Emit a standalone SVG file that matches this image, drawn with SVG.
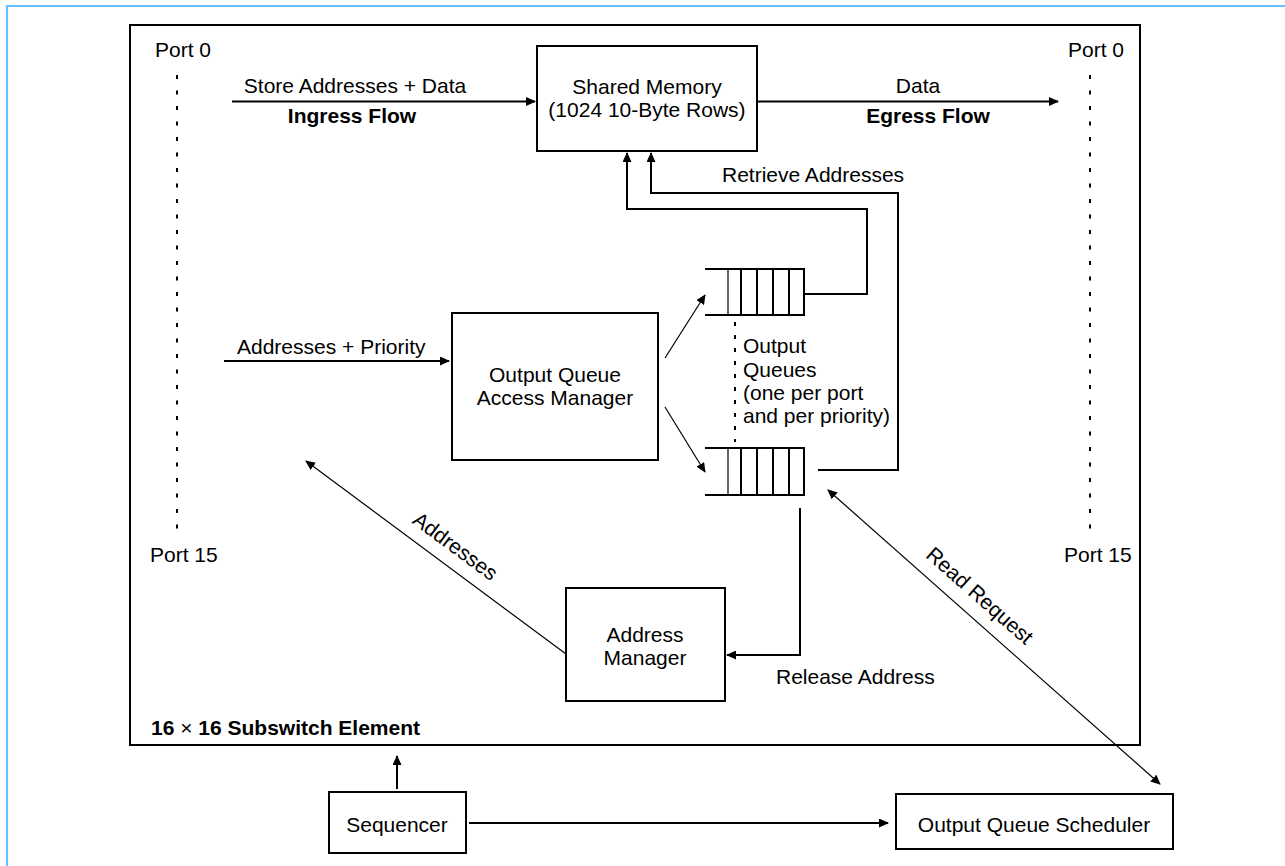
<svg xmlns="http://www.w3.org/2000/svg" width="1285" height="866" viewBox="0 0 1285 866">
  <style>
    text { font-family: "Liberation Sans", Arial, Helvetica, sans-serif; font-size: 21px; fill: #000; }
    .b { font-weight: bold; }
    .m { text-anchor: middle; }
    .box { fill: #fff; stroke: #000; stroke-width: 2; }
    .thick { fill: none; stroke: #000; stroke-width: 2; }
    .thin { fill: none; stroke: #000; stroke-width: 1.2; }
    .dots { fill: none; stroke: #000; stroke-width: 2; stroke-dasharray: 4 11.5; }
    .qdots { fill: none; stroke: #000; stroke-width: 2; stroke-dasharray: 4 9; }
  </style>
  <defs>
    <marker id="ah" viewBox="0 0 10 9" refX="9" refY="4.5" markerWidth="10" markerHeight="9" markerUnits="userSpaceOnUse" orient="auto-start-reverse">
      <path d="M0,0 L10,4.5 L0,9 Z" fill="#000"/>
    </marker>
  </defs>

  <rect width="1285" height="866" fill="#fff"/>

  <!-- page frame -->
  <g id="frame">
    <line x1="6" y1="6" x2="1285" y2="6" stroke="#66bfff" stroke-width="2.2"/>
    <line x1="7" y1="5" x2="7" y2="866" stroke="#66bfff" stroke-width="2.2"/>
  </g>

  <!-- subswitch element outline -->
  <g id="subswitch">
    <rect x="130" y="25" width="1010" height="720" class="box" fill="none"/>
    <text x="151" y="735" class="b">16<tspan font-weight="normal"> × </tspan>16 Subswitch Element</text>
  </g>

  <!-- port columns -->
  <g id="ports-in">
    <text x="155" y="57">Port 0</text>
    <line x1="177" y1="75" x2="177" y2="534" class="dots"/>
    <text x="150" y="562">Port 15</text>
  </g>
  <g id="ports-out">
    <text x="1068" y="57">Port 0</text>
    <line x1="1090" y1="75" x2="1090" y2="534" class="dots"/>
    <text x="1064" y="562">Port 15</text>
  </g>

  <g id="shared-memory">
    <rect x="537" y="46" width="220" height="105" class="box"/>
    <text x="647" y="94" class="m">Shared Memory</text>
    <text x="647" y="117" class="m">(1024 10-Byte Rows)</text>
  </g>

  <g id="oq-access-manager">
    <rect x="452" y="313" width="206" height="147" class="box"/>
    <text x="555" y="382" class="m">Output Queue</text>
    <text x="555" y="405" class="m">Access Manager</text>
  </g>

  <g id="output-queue-0">
    <path d="M705,269 H804 M705,315 H804 M741,269 V315 M757,269 V315 M773,269 V315 M789,269 V315 M804,268 V316" class="thick"/>
    <line x1="728" y1="269" x2="728" y2="315" stroke="#000" stroke-width="1.2"/>
  </g>
  <g id="output-queue-15">
    <path d="M705,448 H804 M705,495 H804 M741,448 V495 M757,448 V495 M773,448 V495 M789,448 V495 M804,447 V496" class="thick"/>
    <line x1="728" y1="448" x2="728" y2="495" stroke="#000" stroke-width="1.2"/>
  </g>
  <g id="output-queues-label">
    <line x1="735" y1="322" x2="735" y2="442" class="qdots"/>
    <text x="743" y="353">Output</text>
    <text x="743" y="377">Queues</text>
    <text x="743" y="400">(one per port</text>
    <text x="743" y="423">and per priority)</text>
  </g>

  <g id="address-manager">
    <rect x="566" y="588" width="159" height="113" class="box"/>
    <text x="645" y="642" class="m">Address</text>
    <text x="645" y="665" class="m">Manager</text>
  </g>

  <g id="sequencer">
    <rect x="329" y="792" width="137" height="61" class="box"/>
    <text x="397" y="832" class="m">Sequencer</text>
  </g>

  <g id="oq-scheduler">
    <rect x="896" y="794" width="277" height="55" class="box"/>
    <text x="1034" y="832" class="m">Output Queue Scheduler</text>
  </g>

  <!-- connectors -->
  <g id="connectors">
    <!-- ingress / egress data paths -->
    <line x1="232" y1="101.5" x2="535" y2="101.5" class="thick" marker-end="url(#ah)"/>
    <text x="355" y="93" class="m">Store Addresses + Data</text>
    <text x="352" y="123" class="b m">Ingress Flow</text>

    <line x1="757" y1="101.5" x2="1058" y2="101.5" class="thick" marker-end="url(#ah)"/>
    <text x="918" y="93" class="m">Data</text>
    <text x="928" y="123" class="b m">Egress Flow</text>

    <!-- retrieve addresses from the queues -->
    <polyline points="804,294 867,294 867,209 627,209 627,153" class="thick" marker-end="url(#ah)"/>
    <polyline points="818,470 898,470 898,193 651,193 651,153" class="thick" marker-end="url(#ah)"/>
    <text x="722" y="182">Retrieve Addresses</text>

    <!-- addresses + priority into the access manager -->
    <line x1="224" y1="361" x2="449" y2="361" class="thick" marker-end="url(#ah)"/>
    <text x="237" y="354">Addresses + Priority</text>

    <!-- access manager to queues -->
    <line x1="665" y1="358" x2="705" y2="295" class="thin" marker-end="url(#ah)"/>
    <line x1="665" y1="407" x2="705" y2="472" class="thin" marker-end="url(#ah)"/>

    <!-- release address -->
    <polyline points="800,508 800,655 727,655" class="thick" marker-end="url(#ah)"/>
    <text x="776" y="684">Release Address</text>

    <!-- free addresses back to ingress -->
    <line x1="566" y1="654" x2="306" y2="461" class="thin" marker-end="url(#ah)"/>
    <text transform="translate(451 552) rotate(36.6)" class="m">Addresses</text>

    <!-- read request between queues and scheduler -->
    <line x1="828" y1="490" x2="1160" y2="784" class="thin" marker-start="url(#ah)" marker-end="url(#ah)"/>
    <text transform="translate(975 601) rotate(41.5)" class="m">Read Request</text>

    <!-- sequencer links -->
    <line x1="397" y1="789" x2="397" y2="756" class="thick" marker-end="url(#ah)"/>
    <line x1="469" y1="823" x2="888" y2="823" class="thick" marker-end="url(#ah)"/>
  </g>
</svg>
